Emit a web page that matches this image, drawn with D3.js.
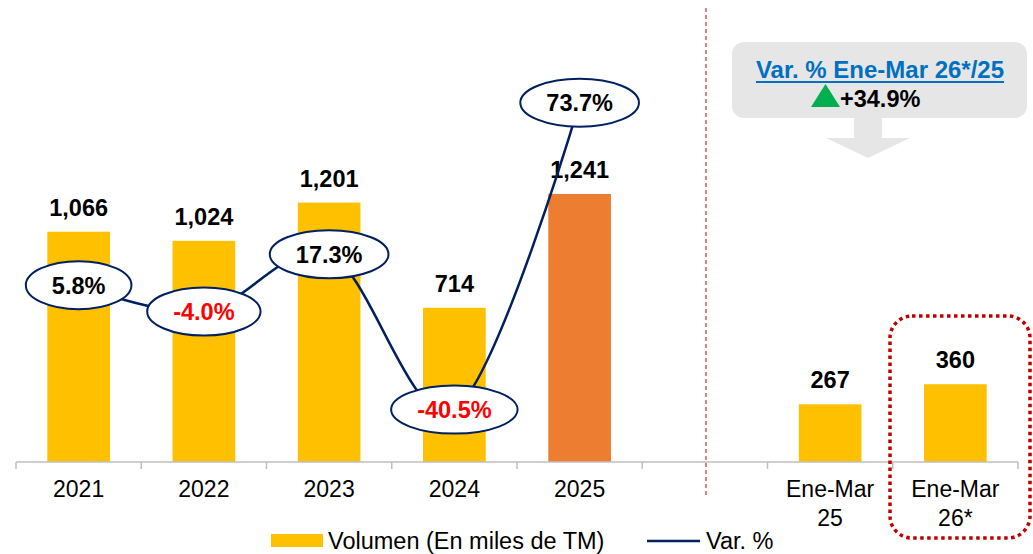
<!DOCTYPE html>
<html><head><meta charset="utf-8">
<script src="https://cdn.jsdelivr.net/npm/d3@7"></script>
<style>html,body{margin:0;padding:0;background:#fff;}svg{display:block;font-family:"Liberation Sans",Arial,sans-serif;}</style>
</head><body>
<svg id="c" width="1033" height="554"></svg>
<script>
const categories = ["2021","2022","2023","2024","2025","","Ene-Mar\n25","Ene-Mar\n26*"];
const volumen = [1066,1024,1201,714,1241,null,267,360];
const varPct = [5.8,-4.0,17.3,-40.5,73.7];
const varLabels = ["5.8%","-4.0%","17.3%","-40.5%","73.7%"];
const volLabels = ["1,066","1,024","1,201","714","1,241",null,"267","360"];
const barColors = ["#FFC000","#FFC000","#FFC000","#FFC000","#ED7D31",null,"#FFC000","#FFC000"];
const annotTitle = "Var. % Ene-Mar 26*/25";
const annotValue = "+34.9%";
const legendLabels = ["Volumen (En miles de TM)","Var. %"];

const svg = d3.select("#c");
const x = d3.scaleBand().domain(d3.range(categories.length)).range([16,1018]).paddingInner(0.5).paddingOuter(0.25);
const y = d3.scaleLinear().domain([0,2000]).range([462,30]);
const y2 = d3.scaleLinear().domain([-60,100]).range([462,32]);
const bandStep = x.step();

// bars
svg.append("g").selectAll("rect").data(volumen.map((v,i)=>({v,i})).filter(d=>d.v!=null))
  .join("rect").attr("x",d=>x(d.i)).attr("width",x.bandwidth())
  .attr("y",d=>y(d.v)).attr("height",d=>y(0)-y(d.v)).attr("fill",d=>barColors[d.i]);

// axis
const axisG = svg.append("g");
axisG.append("line").attr("x1",16).attr("x2",1018).attr("y1",462).attr("y2",462).attr("stroke","#BFBFBF").attr("stroke-width",1.5);
d3.range(categories.length+1).forEach(k=>{
  const tx = 16 + k*bandStep;
  axisG.append("line").attr("x1",tx).attr("x2",tx).attr("y1",462).attr("y2",469).attr("stroke","#BFBFBF").attr("stroke-width",1.5);
});
categories.forEach((c,i)=>{
  const lines = c.split("\n");
  const t = axisG.append("text").attr("text-anchor","middle").attr("font-size",23).attr("fill","#000");
  lines.forEach((ln,j)=>t.append("tspan").attr("x",x(i)+x.bandwidth()/2).attr("y",497+j*29).text(ln));
});

// value labels
svg.append("g").selectAll("text").data(volumen.map((v,i)=>({v,i})).filter(d=>d.v!=null))
  .join("text").attr("x",d=>x(d.i)+x.bandwidth()/2).attr("y",d=>y(d.v)-16)
  .attr("text-anchor","middle").attr("font-size",23.5).attr("font-weight","bold").attr("fill","#000")
  .text(d=>volLabels[d.i]);

// divider
svg.append("line").attr("x1",706).attr("x2",706).attr("y1",8).attr("y2",498)
  .attr("stroke","#E00000").attr("stroke-width",1).attr("stroke-dasharray","4,3");

// line
const pts = varPct.map((v,i)=>[x(i)+x.bandwidth()/2, y2(v)]);
svg.append("path").attr("d",d3.line().curve(d3.curveCardinal.tension(0))(pts))
  .attr("fill","none").attr("stroke","#002060").attr("stroke-width",2.5);

// ellipse labels
const lg = svg.append("g");
varPct.forEach((v,i)=>{
  const g = lg.append("g").attr("transform",`translate(${pts[i][0]},${pts[i][1]})`);
  const el = g.append("ellipse").attr("fill","#fff").attr("stroke","#002060").attr("stroke-width",2).attr("ry",24);
  const t = g.append("text").attr("text-anchor","middle").attr("y",8.5).attr("font-size",23.5).attr("font-weight","bold")
    .attr("fill", v<0 ? "#FF0000" : "#000").text(varLabels[i]);
  const w = t.node().getComputedTextLength();
  el.attr("rx", w/2+26);
});

// annotation box
svg.append("rect").attr("x",732).attr("y",42).attr("width",295).attr("height",76).attr("rx",12).attr("fill","#E7E6E6");
svg.append("path").attr("d","M854,118 L882,118 L882,138 L910,138 L868,158 L826,138 L854,138 Z").attr("fill","#E7E6E6");
const tt = svg.append("text").attr("x",880).attr("y",78).attr("text-anchor","middle").attr("font-size",24).attr("font-weight","bold")
  .attr("fill","#0070C0").text(annotTitle);
const tw = tt.node().getComputedTextLength();
svg.append("line").attr("x1",880-tw/2).attr("x2",880+tw/2).attr("y1",82).attr("y2",82).attr("stroke","#0070C0").attr("stroke-width",2);
svg.append("path").attr("d","M811,107 L825.5,84 L840,107 Z").attr("fill","#00B050");
svg.append("text").attr("x",840).attr("y",107).attr("font-size",23.5).attr("font-weight","bold").attr("fill","#000").text(annotValue);

// red dotted frame
svg.append("rect").attr("x",890).attr("y",316).attr("width",140).attr("height",222).attr("rx",22)
  .attr("fill","none").attr("stroke","#C00000").attr("stroke-width",3.5).attr("stroke-dasharray","3.5,3.5");

// legend
const leg = svg.append("g");
leg.append("rect").attr("x",271).attr("y",534).attr("width",52).attr("height",13).attr("fill","#FFC000");
leg.append("text").attr("x",328).attr("y",549).attr("font-size",23.5).attr("fill","#000").text(legendLabels[0]);
leg.append("line").attr("x1",647).attr("x2",700).attr("y1",541).attr("y2",541).attr("stroke","#002060").attr("stroke-width",2.5);
leg.append("text").attr("x",706).attr("y",549).attr("font-size",23.5).attr("fill","#000").text(legendLabels[1]);
</script>
</body></html>
